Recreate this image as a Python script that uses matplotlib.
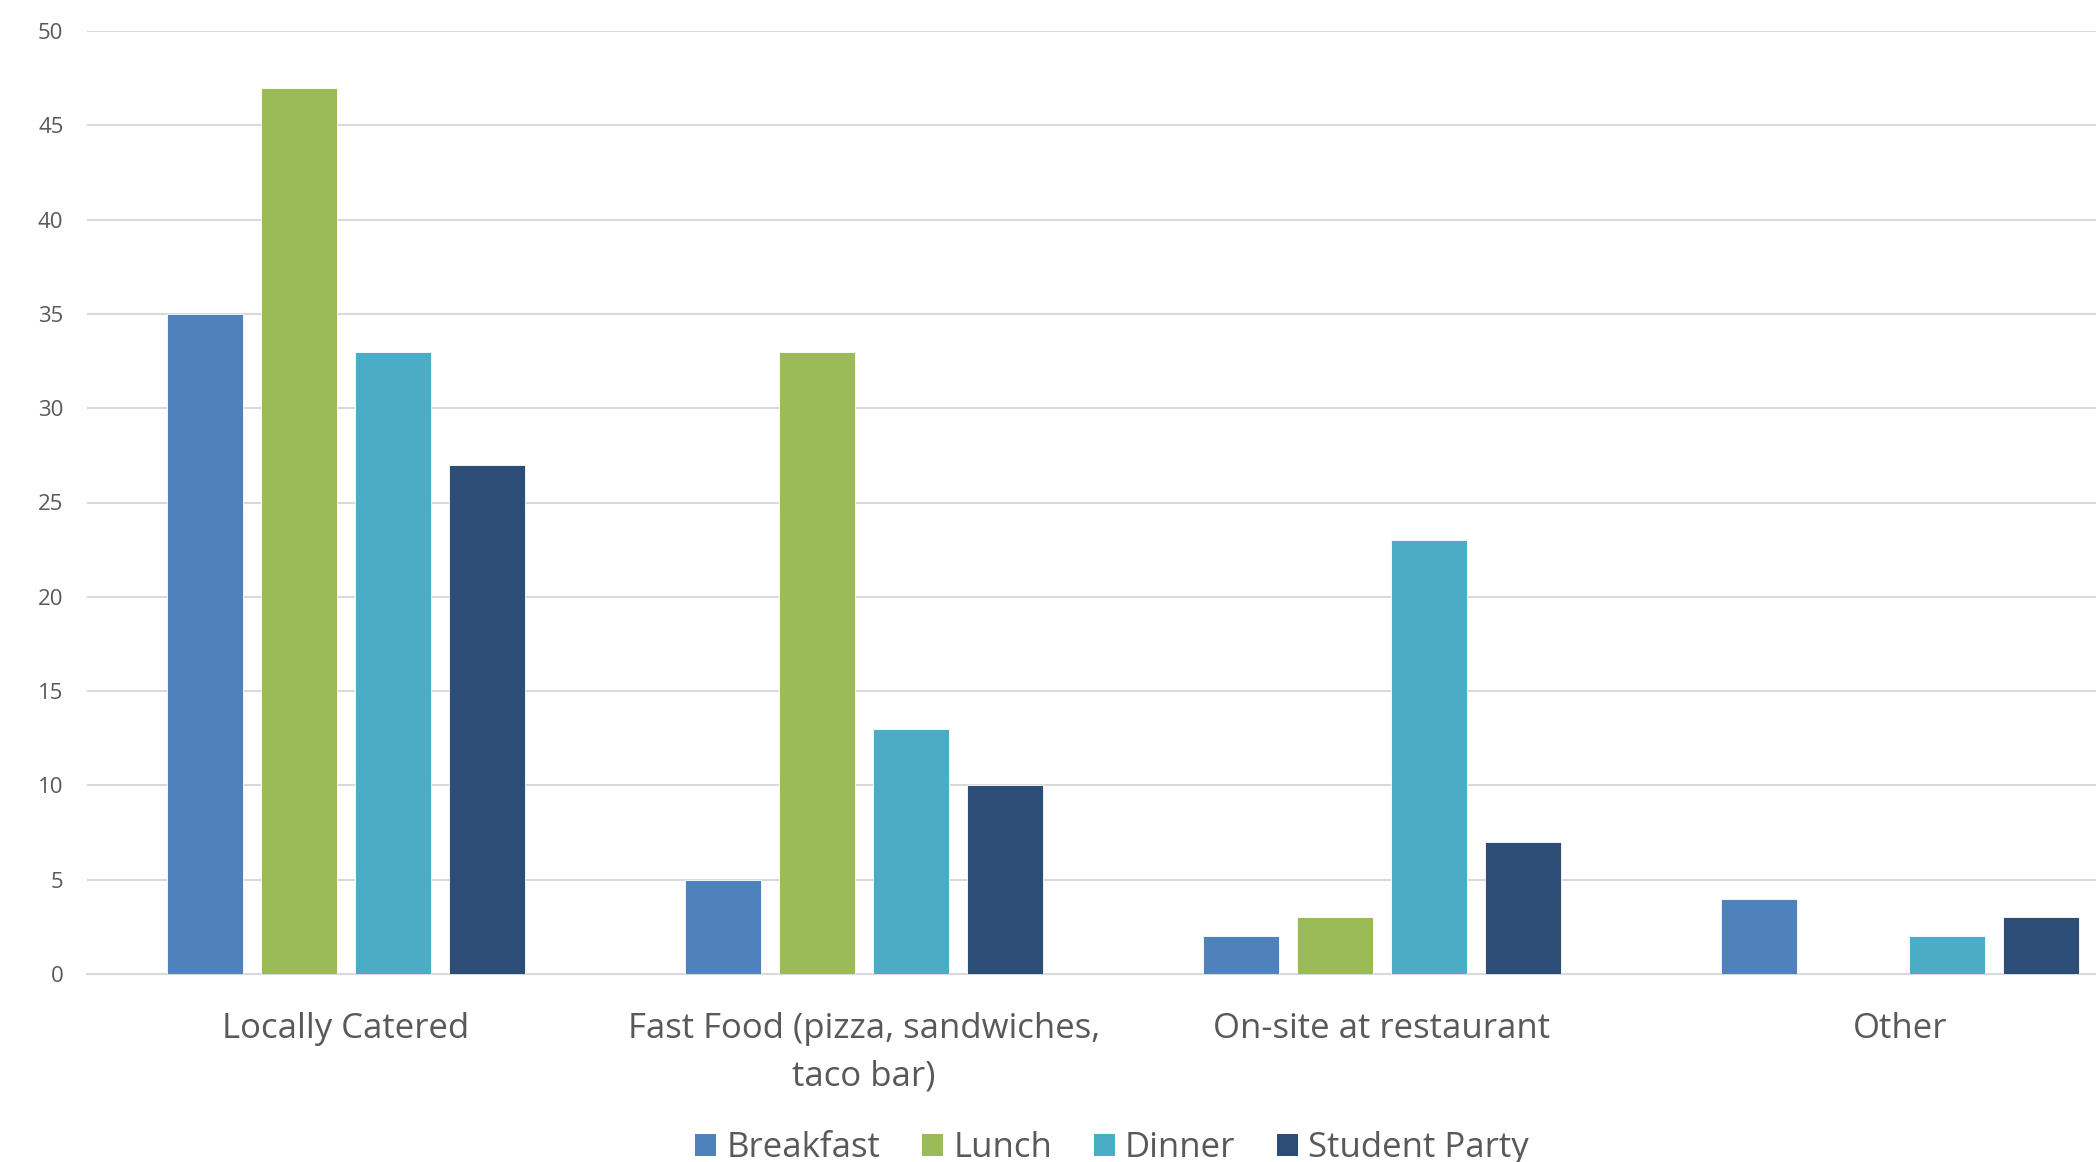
import matplotlib
matplotlib.use("Agg")
import matplotlib.pyplot as plt
import numpy as np
from matplotlib.patches import Patch

categories = ["Locally Catered", "Fast Food (pizza, sandwiches,\ntaco bar)", "On-site at restaurant", "Other"]
series_names = ["Breakfast", "Lunch", "Dinner", "Student Party"]
breakfast = [35, 5, 2, 4]
lunch = [47, 33, 3, 0]
dinner = [33, 13, 23, 2]
student_party = [27, 10, 7, 3]
yticks = [0, 5, 10, 15, 20, 25, 30, 35, 40, 45, 50]

colors = ["#4F81BD", "#9BBB59", "#4BACC6", "#2C4D75"]
text_color = "#595959"
grid_color = "#D9D9D9"

plt.rcParams['font.family'] = ['Open Sans', 'DejaVu Sans']

fig = plt.figure(figsize=(20.96, 11.62), dpi=100)
ax = fig.add_axes([87/2096, 188/1162, (2159-87)/2096, (974-31)/1162])

x = np.arange(len(categories))
pitch = 0.1815
width = 0.145
all_series = [breakfast, lunch, dinner, student_party]
for i, (vals, c, name) in enumerate(zip(all_series, colors, series_names)):
    ax.bar(x + (i - 1.5) * pitch, vals, width, color=c, edgecolor="#FFFFFF", linewidth=0.6, label=name, zorder=3)

ax.set_xlim(-0.5, 3.5)
ax.set_ylim(0, 50)
ax.set_yticks(yticks)
ax.set_yticklabels([str(v) for v in yticks])
ax.set_xticks(x)
ax.set_xticklabels(categories, linespacing=1.55)
ax.tick_params(axis='y', length=0, pad=17, labelsize=16, labelcolor=text_color)
ax.tick_params(axis='x', length=0, pad=27, labelsize=25, labelcolor=text_color)
ax.grid(axis='y', color=grid_color, linewidth=1.5, zorder=0)
ax.set_axisbelow(True)
for s in ["left", "right", "top"]:
    ax.spines[s].set_visible(False)
ax.spines["bottom"].set_color(grid_color)
ax.spines["bottom"].set_linewidth(1.5)

handles = [Patch(facecolor=c, edgecolor='none') for c in colors]
fig.legend(handles, series_names, loc='center', bbox_to_anchor=(1112/2096, 1 - 1148/1162),
           ncol=4, frameon=False, fontsize=25, labelcolor=text_color,
           handlelength=0.6, handleheight=0.6, handletextpad=0.3, columnspacing=1.2)

fig.savefig("out.png", dpi=100)
